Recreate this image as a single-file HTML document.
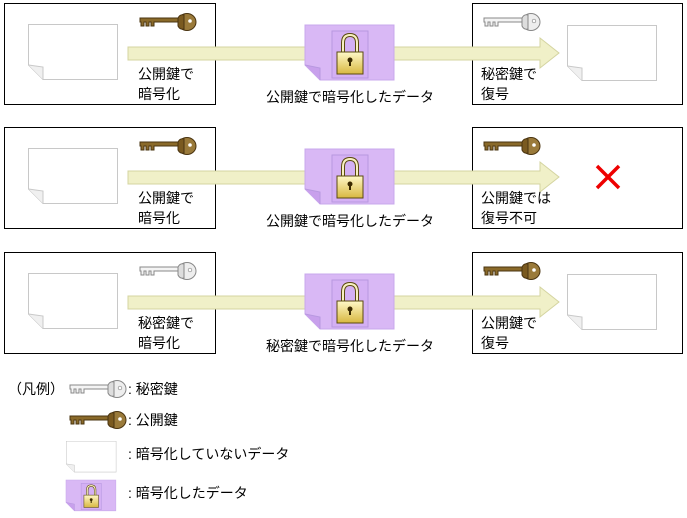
<!DOCTYPE html>
<html><head><meta charset="utf-8"><style>
body{margin:0;background:#fff;}
svg text{font-family:"Liberation Sans","Noto Sans CJK JP",sans-serif;font-size:14px;fill:#000;}
</style></head><body>
<svg width="687" height="513" viewBox="0 0 687 513" xmlns="http://www.w3.org/2000/svg">
<defs>
<linearGradient id="lg" x1="0" y1="0" x2="0" y2="1"><stop offset="0" stop-color="#fff8c8"/><stop offset="1" stop-color="#d8b840"/></linearGradient>
<g id="bk">
<path d="M0,5 H38 V9 H14 V13 H11 V9 H9 V13 H6 V9 H4 V13 H1 V9 H0 Z" fill="#8a6a2a" stroke="#4a3410" stroke-width="1"/>
<ellipse cx="47" cy="9" rx="9" ry="8.5" fill="#9a7a3a" stroke="#4a3410"/>
<path d="M38,5 Q40,1 44,2 L44,16 Q40,17 38,13 Z" fill="#7a5a20" stroke="#4a3410"/>
<circle cx="50" cy="8" r="1.8" fill="#fff"/>
</g>
<g id="sk">
<path d="M0,5 H38 V9 H14 V13 H11 V9 H9 V13 H6 V9 H4 V13 H1 V9 H0 Z" fill="#f4f4f4" stroke="#888" stroke-width="1"/>
<ellipse cx="47" cy="9" rx="9" ry="8.5" fill="#eee" stroke="#888"/>
<path d="M38,5 Q40,1 44,2 L44,16 Q40,17 38,13 Z" fill="#ddd" stroke="#888"/>
<circle cx="50" cy="8" r="1.8" fill="#fff" stroke="#888" stroke-width="0.7"/>
</g>
<g id="doc">
<path d="M0.5,0.5 H89.5 V55.5 H15 L0.5,41 Z" fill="#fff" stroke="#c8c8c8"/>
<path d="M0.5,41 L15,43 L15,55.5" fill="#f0f0f0" stroke="#c8c8c8"/>
</g>
<g id="edoc">
<path d="M0,0 H89 V55 H15 L0,40 Z" fill="#d9b8f5" stroke="#c8a8ec"/>
<path d="M0,40 L15,43 L15,55" fill="#c8a0ec" stroke="#b898e0"/>
<rect x="27" y="6" width="36" height="47" fill="#d4b0f4" stroke="#b898e0"/>
<path d="M38,28 V18 Q38,10 45,10 Q52,10 52,18 V28" fill="none" stroke="#5a4a10" stroke-width="4"/>
<path d="M38,28 V18 Q38,10 45,10 Q52,10 52,18 V28" fill="none" stroke="#f8f0c0" stroke-width="2"/>
<rect x="32" y="27" width="26" height="22" fill="url(#lg)" stroke="#5a4a10"/>
<circle cx="45" cy="35" r="2.5" fill="#3a2a00"/><rect x="44" y="35" width="2" height="6" fill="#3a2a00"/>
</g>
<g id="arr">
<path d="M128,47 H540 V38 L559,53 L540,68 V60 H128 Z" fill="#f0f0c8" stroke="#d4d4a0"/>
</g>
</defs>

<g>
<rect x="4.5" y="3.5" width="211" height="101" fill="#fff" stroke="#000"/>
<rect x="472.5" y="3.5" width="210" height="101" fill="#fff" stroke="#000"/>
<use href="#doc" x="28" y="24"/>
<use href="#arr"/>
<use href="#edoc" x="305" y="25"/>
<use href="#bk" x="140" y="13"/>
<use href="#sk" x="484" y="13"/>
<use href="#doc" x="567" y="25"/>
<text x="138" y="79">公開鍵で</text><text x="138" y="99">暗号化</text>
<text x="350" y="102" text-anchor="middle">公開鍵で暗号化したデータ</text>
<text x="481" y="79">秘密鍵で</text><text x="481" y="99">復号</text>
</g>
<g transform="translate(0,124)">
<rect x="4.5" y="3.5" width="211" height="101" fill="#fff" stroke="#000"/>
<rect x="472.5" y="3.5" width="210" height="101" fill="#fff" stroke="#000"/>
<use href="#doc" x="28" y="24"/>
<use href="#arr"/>
<use href="#edoc" x="305" y="25"/>
<use href="#bk" x="140" y="13"/>
<use href="#bk" x="484" y="13"/>
<path d="M597,42 L619,64 M619,42 L597,64" stroke="#e00" stroke-width="3.5"/>
<text x="138" y="79">公開鍵で</text><text x="138" y="99">暗号化</text>
<text x="350" y="102" text-anchor="middle">公開鍵で暗号化したデータ</text>
<text x="481" y="79">公開鍵では</text><text x="481" y="99">復号不可</text>
</g>
<g transform="translate(0,249)">
<rect x="4.5" y="3.5" width="211" height="101" fill="#fff" stroke="#000"/>
<rect x="472.5" y="3.5" width="210" height="101" fill="#fff" stroke="#000"/>
<use href="#doc" x="28" y="24"/>
<use href="#arr"/>
<use href="#edoc" x="305" y="25"/>
<use href="#sk" x="140" y="13"/>
<use href="#bk" x="484" y="13"/>
<use href="#doc" x="567" y="25"/>
<text x="138" y="79">秘密鍵で</text><text x="138" y="99">暗号化</text>
<text x="350" y="102" text-anchor="middle">秘密鍵で暗号化したデータ</text>
<text x="481" y="79">公開鍵で</text><text x="481" y="99">復号</text>
</g>
<text x="8" y="394">（凡例）</text>
<use href="#sk" x="70" y="380"/>
<text x="128" y="394">: 秘密鍵</text>
<use href="#bk" x="70" y="411"/>
<text x="128" y="425">: 公開鍵</text>
<g transform="translate(66,441) scale(0.56)"><use href="#doc"/></g>
<text x="128" y="459">: 暗号化していないデータ</text>
<g transform="translate(66,480) scale(0.56)"><use href="#edoc"/></g>
<text x="128" y="498">: 暗号化したデータ</text>
</svg>
</body></html>
